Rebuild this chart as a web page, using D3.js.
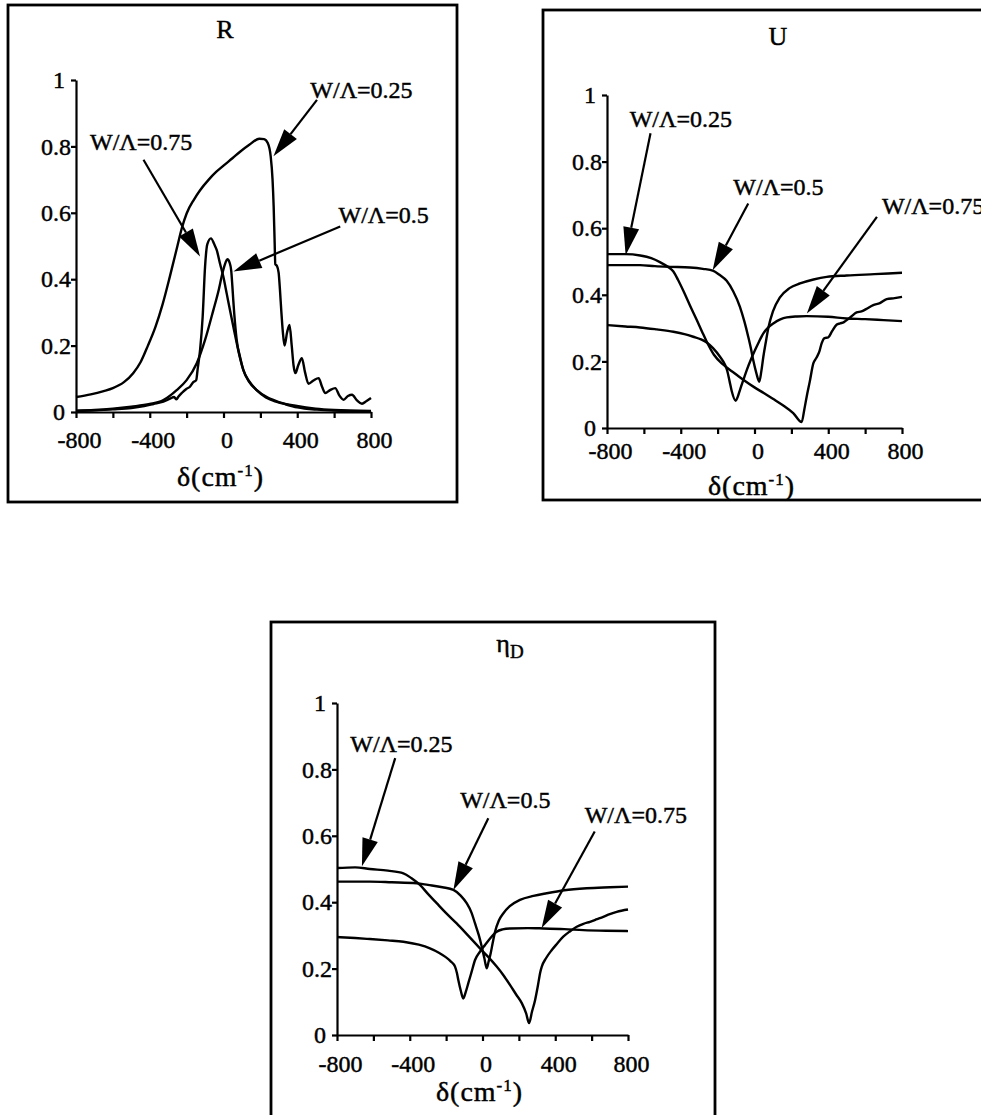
<!DOCTYPE html>
<meta charset="utf-8">
<style>
body { margin: 0; background: #fff; }
text { font-family: "Liberation Serif", "Times New Roman", serif; fill: #000; stroke: #000; stroke-width: 0.45px; }
</style>
<svg id="mysvg" width="981" height="1115"></svg>
<script src="https://cdn.jsdelivr.net/npm/d3@7"></script>
<script>

var svg = d3.select("#mysvg");

// axis ticks
var xTicks = d3.range(-800, 801, 200);
var xLabels = [-800, -400, 0, 400, 800];
var yTicks = [0, 0.2, 0.4, 0.6, 0.8, 1];
var names = ["W/\u039B=0.25", "W/\u039B=0.5", "W/\u039B=0.75"];

// R panel, [delta, value]
var R_025 = [[-800,0.045],[-720,0.053],[-650,0.063],[-600,0.072],[-540,0.09],[-490,0.117],[-450,0.15],[-410,0.2],[-370,0.255],
  [-330,0.325],[-290,0.41],[-250,0.5],[-227,0.552],[-200,0.598],[-160,0.64],[-127,0.668],[-80,0.7],[-40,0.723],[0,0.742],
  [50,0.765],[90,0.784],[140,0.805],[194,0.823],[220,0.822],[240,0.81],[256,0.77],[266,0.7],[272,0.62],[277,0.52],[281,0.445],
  [290,0.44],[299,0.42],[306,0.37],[314,0.3],[322,0.24],[331,0.2],[345,0.24],[358,0.262],[370,0.2],[380,0.14],[390,0.117],
  [405,0.14],[425,0.162],[442,0.12],[461,0.085],[488,0.095],[516,0.102],[535,0.075],[552,0.057],[578,0.066],[606,0.072],
  [628,0.05],[651,0.037],[675,0.048],[697,0.052],[724,0.035],[751,0.025],[776,0.033],[800,0.042]];
var R_05 = [[-800,0.004],[-700,0.006],[-600,0.01],[-500,0.016],[-400,0.024],[-326,0.036],[-254,0.066],[-200,0.096],[-145,0.147],
  [-100,0.217],[-55,0.307],[-25,0.37],[-10,0.408],[5,0.44],[21,0.46],[33,0.45],[42,0.425],[48,0.38],[53,0.337],[72,0.215],
  [90,0.165],[107,0.128],[140,0.09],[180,0.066],[235,0.045],[300,0.03],[398,0.018],[500,0.01],[600,0.006],[800,0.003]];
var R_075 = [[-800,0.003],[-700,0.005],[-600,0.008],[-500,0.012],[-430,0.018],[-380,0.024],[-326,0.031],[-290,0.04],[-268,0.045],
  [-255,0.038],[-245,0.046],[-225,0.058],[-200,0.07],[-182,0.076],[-164,0.09],[-148,0.096],[-140,0.13],[-127,0.187],[-113,0.287],
  [-100,0.438],[-88,0.505],[-68,0.523],[-50,0.505],[-37,0.488],[-18,0.445],[-1,0.408],[18,0.355],[35,0.307],[54,0.255],
  [72,0.207],[90,0.162],[107,0.127],[140,0.092],[180,0.066],[230,0.044],[280,0.032],[324,0.025],[400,0.014],[505,0.007],
  [600,0.004],[800,0.002]];

// U panel
var U_025 = [[-800,0.522],[-700,0.522],[-620,0.518],[-560,0.51],[-513,0.498],[-470,0.484],[-440,0.47],[-415,0.445],[-386,0.412],
  [-350,0.368],[-313,0.324],[-285,0.29],[-259,0.259],[-220,0.22],[-169,0.19],[-110,0.165],[-61,0.145],[0,0.122],[50,0.105],
  [102,0.087],[160,0.066],[210,0.045],[256,0.018],[270,0.055],[283,0.094],[300,0.14],[319,0.194],[335,0.21],[352,0.23],
  [364,0.254],[380,0.27],[400,0.272],[420,0.29],[445,0.31],[464,0.314],[485,0.318],[500,0.324],[525,0.335],[554,0.347],
  [580,0.35],[605,0.357],[644,0.369],[680,0.375],[717,0.387],[760,0.39],[800,0.394]];
var U_05 = [[-800,0.489],[-700,0.489],[-621,0.489],[-540,0.486],[-458,0.484],[-350,0.482],[-280,0.478],[-223,0.472],[-190,0.46],
  [-151,0.442],[-115,0.41],[-79,0.364],[-55,0.32],[-34,0.274],[-18,0.235],[-7,0.204],[10,0.165],[26,0.139],[37,0.17],
  [48,0.214],[62,0.26],[75,0.3],[100,0.35],[138,0.392],[190,0.42],[247,0.434],[320,0.446],[392,0.454],[500,0.458],
  [650,0.462],[800,0.466]];
var U_075 = [[-800,0.309],[-700,0.305],[-621,0.302],[-530,0.296],[-440,0.289],[-380,0.282],[-332,0.274],[-290,0.266],[-259,0.257],
  [-225,0.24],[-187,0.214],[-160,0.19],[-148,0.172],[-135,0.14],[-124,0.112],[-102,0.082],[-90,0.095],[-79,0.114],[-60,0.145],
  [-42,0.174],[-20,0.205],[3,0.234],[25,0.26],[48,0.284],[75,0.302],[102,0.314],[140,0.326],[175,0.332],[230,0.335],
  [283,0.336],[400,0.334],[500,0.329],[600,0.327],[700,0.324],[800,0.321]];

// eta_D panel
var E_025 = [[-800,0.503],[-700,0.505],[-619,0.5],[-520,0.495],[-435,0.487],[-390,0.472],[-344,0.452],[-300,0.425],[-252,0.397],
  [-200,0.367],[-142,0.336],[-80,0.3],[-14,0.261],[30,0.236],[78,0.206],[115,0.18],[151,0.151],[185,0.122],[216,0.096],
  [240,0.065],[256,0.036],[272,0.07],[289,0.105],[305,0.15],[318,0.19],[326,0.206],[350,0.232],[381,0.256],[410,0.275],
  [444,0.296],[480,0.312],[518,0.326],[555,0.335],[591,0.341],[630,0.349],[664,0.356],[700,0.364],[738,0.371],[800,0.378]];
var E_05 = [[-800,0.462],[-700,0.462],[-619,0.462],[-500,0.46],[-362,0.457],[-300,0.452],[-220,0.445],[-160,0.437],[-120,0.42],
  [-87,0.397],[-60,0.368],[-41,0.336],[-20,0.3],[-4,0.266],[10,0.232],[23,0.201],[33,0.22],[45,0.246],[57,0.28],[69,0.311],
  [90,0.345],[114,0.366],[150,0.388],[206,0.407],[280,0.419],[353,0.427],[450,0.436],[573,0.442],[700,0.445],[800,0.447]];
var E_075 = [[-800,0.295],[-700,0.292],[-619,0.289],[-520,0.285],[-435,0.281],[-350,0.272],[-289,0.261],[-240,0.248],[-206,0.236],
  [-175,0.222],[-151,0.206],[-140,0.185],[-133,0.166],[-120,0.135],[-106,0.11],[-92,0.13],[-78,0.156],[-60,0.19],[-41,0.226],
  [-15,0.25],[14,0.271],[45,0.293],[78,0.311],[110,0.318],[151,0.321],[250,0.322],[334,0.321],[450,0.319],[554,0.316],
  [680,0.314],[800,0.313]];

// labels: text left [x,y], arrow tail [x,y], arrow tip [x,y] (data units)
var R_notes = [[[471,0.97],[507,0.94],[271,0.77]], [[624,0.594],[633,0.559],[54,0.423]], [[-724,0.814],[-434,0.76],[-127,0.468]]];
var U_notes = [[[-677,0.93],[-564,0.885],[-699,0.519]], [[-115,0.724],[-34,0.674],[-227,0.474]], [[691,0.669],[664,0.634],[284,0.344]]];
var E_notes = [[[-727,0.879],[-480,0.834],[-663,0.508]], [[-123,0.709],[32,0.653],[-160,0.437]], [[562,0.663],[617,0.613],[325,0.322]]];

var panels = [
	{title: "R", sub: "", tx: 225, ty: 38, frame: [8, 5, 457, 502], x0: 76, x1: 371, yb: 412, yt: 80,
	 tickY: 36, labY: 486, series: [R_025, R_05, R_075], notes: R_notes},
	{title: "U", sub: "", tx: 778, ty: 45, frame: [543, 10, 1000, 500], x0: 607, x1: 902, yb: 428, yt: 95,
	 tickY: 31, labY: 495, series: [U_025, U_05, U_075], notes: U_notes},
	{title: "\u03B7", sub: "D", tx: 510, ty: 652, frame: [271, 622, 715, 1140], x0: 337, x1: 628, yb: 1035, yt: 703,
	 tickY: 37, labY: 1101, series: [E_025, E_05, E_075], notes: E_notes}
];

panels.forEach(function(p){
	var g = svg.append("g");

	g.append("rect")
		.attr("x", p.frame[0]).attr("y", p.frame[1])
		.attr("width", p.frame[2] - p.frame[0]).attr("height", p.frame[3] - p.frame[1])
		.attr("fill", "none").attr("stroke", "#000").attr("stroke-width", 2.8);

	var x = d3.scaleLinear().domain([-800, 800]).range([p.x0, p.x1]);
	var y = d3.scaleLinear().domain([0, 1]).range([p.yb, p.yt]);

	// title
	var t = g.append("text").attr("x", p.tx).attr("y", p.ty)
		.attr("text-anchor", "middle").attr("font-size", 26).text(p.title);
	if (p.sub) t.append("tspan").attr("font-size", 19).attr("dy", 6).text(p.sub);

	var xAxis = d3.axisBottom(x).tickValues(xTicks).tickSizeInner(6).tickSizeOuter(0)
		.tickFormat(function(d){ return xLabels.indexOf(d) >= 0 ? d : ""; });
	var gx = g.append("g").attr("transform", "translate(0," + p.yb + ")").call(xAxis);
	gx.selectAll("path, line").attr("stroke", "#000").attr("stroke-width", 2.2);
	gx.selectAll("text").attr("font-size", 24)
		.attr("y", p.tickY).attr("dy", null).attr("dx", 3);

	var yAxis = d3.axisLeft(y).tickValues(yTicks).tickSizeInner(5).tickSizeOuter(0).tickPadding(0)
		.tickFormat(function(d){ return d === 0 || d === 1 ? d : d3.format(".1f")(d); });
	var gy = g.append("g").attr("transform", "translate(" + p.x0 + ",0)").call(yAxis);
	gy.selectAll("path, line").attr("stroke", "#000").attr("stroke-width", 2.2);
	gy.selectAll("text").attr("font-size", 24)
		.attr("x", function(d){ return d === 0 || d === 1 ? -11 : -5; });
	gx.attr("font-family", null); gy.attr("font-family", null);

	// x label
	var xl = g.append("text").attr("x", (p.x0 + p.x1) / 2 - 3).attr("y", p.labY)
		.attr("text-anchor", "middle").attr("font-size", 28).attr("letter-spacing", 1);
	xl.append("tspan").text("\u03B4(cm");
	xl.append("tspan").attr("font-size", 17).attr("dy", -10).text("-1");
	xl.append("tspan").attr("dy", 10).text(")");

	var line = d3.line()
		.x(function(d){ return x(d[0]); })
		.y(function(d){ return y(d[1]); })
		.curve(d3.curveMonotoneX);

	g.selectAll("path.curve")
		.data(p.series)
		.enter().append("path")
		.attr("class", "curve")
		.attr("d", line)
		.attr("fill", "none").attr("stroke", "#000").attr("stroke-width", 2.4)
		.attr("stroke-linejoin", "round");

	p.notes.forEach(function(n, i){
		g.append("text").attr("x", x(n[0][0])).attr("y", y(n[0][1])).attr("dy", "0.35em")
			.attr("font-size", 24).text(names[i]);
		arrow(g, [x(n[1][0]), y(n[1][1])], [x(n[2][0]), y(n[2][1])]);
	});
});

function arrow(g, a, b){
	var dx = b[0] - a[0], dy = b[1] - a[1];
	var len = Math.sqrt(dx * dx + dy * dy);
	var ux = dx / len, uy = dy / len;
	var L = 28, W = 8;
	var bx = b[0] - ux * L, by = b[1] - uy * L;
	g.append("line")
		.attr("x1", a[0]).attr("y1", a[1]).attr("x2", bx).attr("y2", by)
		.attr("stroke", "#000").attr("stroke-width", 2.2);
	g.append("path")
		.attr("d", "M" + b[0] + "," + b[1] +
			"L" + (bx - uy * W) + "," + (by + ux * W) +
			"L" + (bx + uy * W) + "," + (by - ux * W) + "Z")
		.attr("fill", "#000");
}

</script>
